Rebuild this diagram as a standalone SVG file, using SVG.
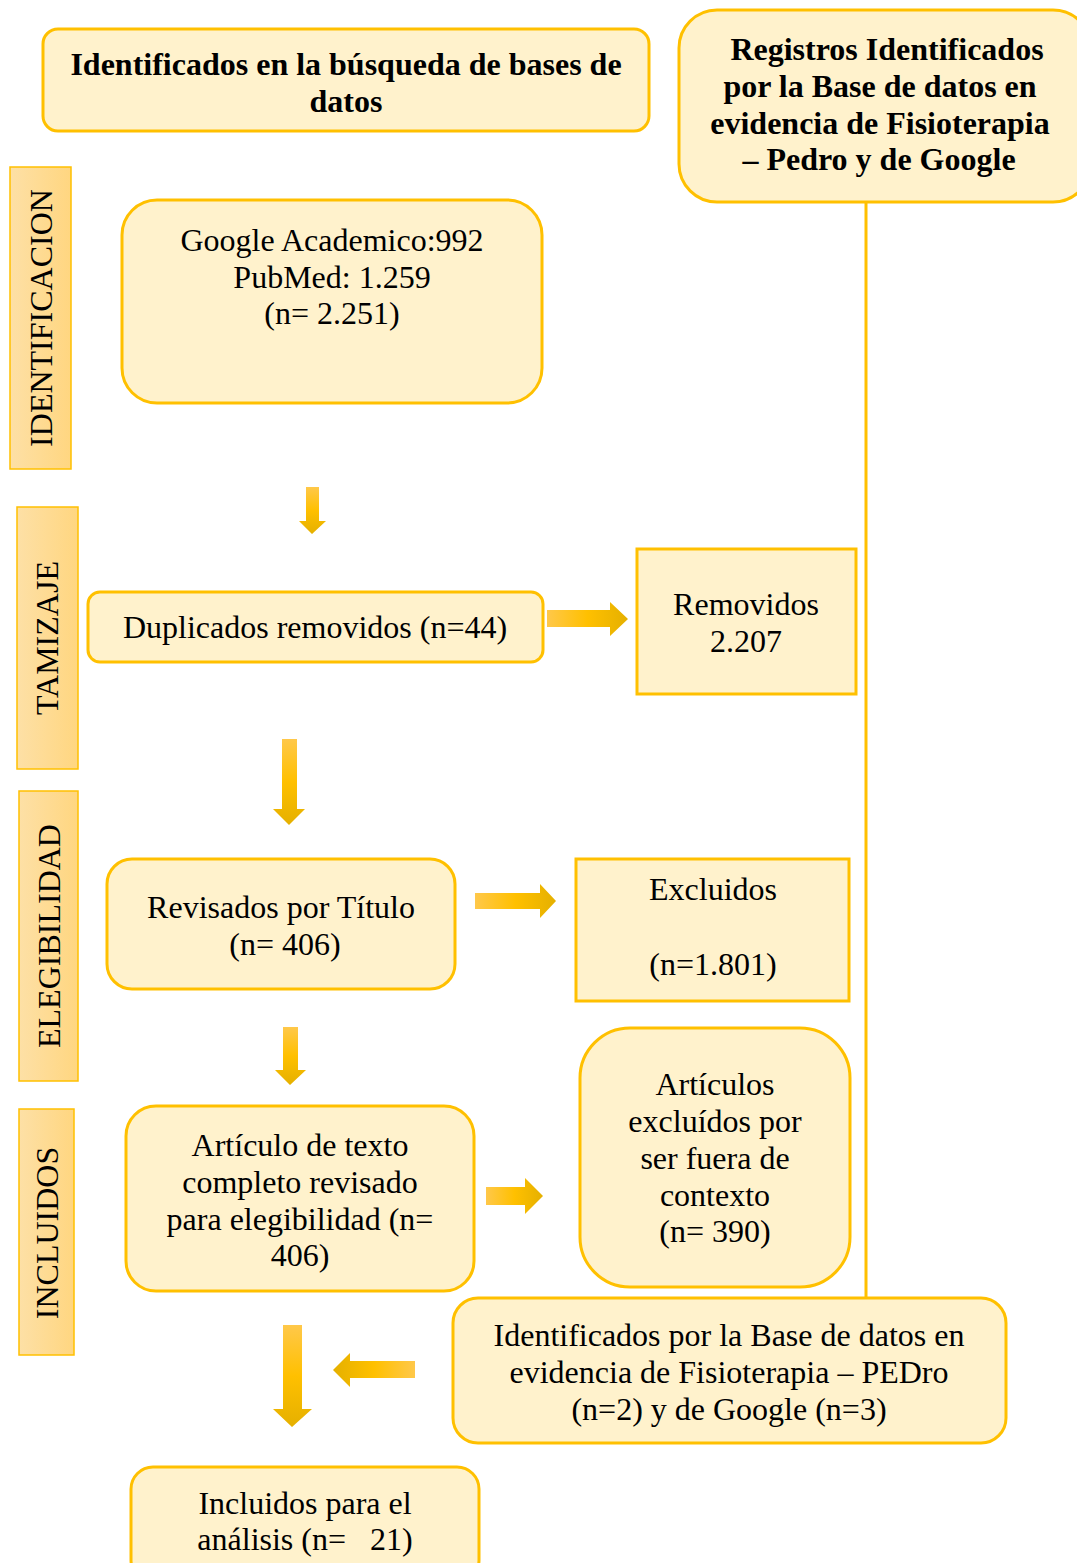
<svg xmlns="http://www.w3.org/2000/svg" width="1077" height="1563" viewBox="0 0 1077 1563">
<defs>
<linearGradient id="side" x1="0" y1="0" x2="1" y2="0">
<stop offset="0" stop-color="#FDE0A6"/>
<stop offset="1" stop-color="#FFD680"/>
</linearGradient>
<linearGradient id="gDown" x1="0" y1="0" x2="0" y2="1">
<stop offset="0" stop-color="#FFC84A"/>
<stop offset="0.5" stop-color="#FFC000"/>
<stop offset="1" stop-color="#E5B000"/>
</linearGradient>
<linearGradient id="gRight" x1="0" y1="0" x2="1" y2="0">
<stop offset="0" stop-color="#FFC84A"/>
<stop offset="0.5" stop-color="#FFC000"/>
<stop offset="1" stop-color="#E5B000"/>
</linearGradient>
<linearGradient id="gLeft" x1="1" y1="0" x2="0" y2="0">
<stop offset="0" stop-color="#FFC84A"/>
<stop offset="0.5" stop-color="#FFC000"/>
<stop offset="1" stop-color="#E5B000"/>
</linearGradient>
</defs>
<style>
.box{fill:#FFF2CC;stroke:#FFC000;stroke-width:3}
.side{fill:url(#side);stroke:#FFC000;stroke-width:1.5}
.t{font-family:"Liberation Serif","Times New Roman",serif;font-size:32px;fill:#000;text-anchor:middle}
.b{font-weight:bold;font-size:32px}
.s{font-size:32px}
.ad{fill:url(#gDown)}
.ar{fill:url(#gRight)}
.al{fill:url(#gLeft)}
</style>
<rect width="1077" height="1563" fill="#fff"/>

<g id="connectors">
<line x1="866" y1="202" x2="866" y2="1299" stroke="#FFC000" stroke-width="3"/>
<polygon class="ad" points="306,487 319,487 319,521 326,521 312,534 299,521 306,521"/>
<polygon class="ar" points="547,610 610,610 610,602 628,619 610,636 610,627 547,627"/>
<polygon class="ad" points="282,739 297,739 297,809 305,809 289,825 273,809 282,809"/>
<polygon class="ar" points="475,893 540,893 540,884 556,901 540,918 540,909 475,909"/>
<polygon class="ad" points="283,1027 298,1027 298,1070 306,1070 290,1085 275,1070 283,1070"/>
<polygon class="ar" points="486,1187 525,1187 525,1178 543,1196 525,1214 525,1205 486,1205"/>
<polygon class="ad" points="283,1325 302,1325 302,1409 312,1409 292,1427 273,1409 283,1409"/>
<polygon class="al" points="415,1361 350,1361 350,1353 333,1370 350,1387 350,1378 415,1378"/>
</g>

<g id="side-identificacion">
<rect class="side" x="10" y="167" width="61" height="302"/>
<text class="t s" transform="translate(52,318) rotate(-90)">IDENTIFICACION</text>
</g>
<g id="side-tamizaje">
<rect class="side" x="17" y="507" width="61" height="262"/>
<text class="t s" transform="translate(58,638) rotate(-90)">TAMIZAJE</text>
</g>
<g id="side-elegibilidad">
<rect class="side" x="19" y="791" width="59" height="290"/>
<text class="t s" transform="translate(60,936) rotate(-90)">ELEGIBILIDAD</text>
</g>
<g id="side-incluidos">
<rect class="side" x="19" y="1109" width="55" height="246"/>
<text class="t s" transform="translate(58,1233) rotate(-90)">INCLUIDOS</text>
</g>

<g id="node-identificados">
<rect class="box" x="43" y="29" width="606" height="102" rx="15"/>
<text class="t b" x="346" y="75">Identificados en la búsqueda de bases de</text>
<text class="t b" x="346" y="112">datos</text>
</g>

<g id="node-registros">
<rect class="box" x="679" y="10" width="412" height="192" rx="38"/>
<text class="t b" x="887" y="60">Registros Identificados</text>
<text class="t b" x="880" y="97">por la Base de datos en</text>
<text class="t b" x="880" y="134">evidencia de Fisioterapia</text>
<text class="t b" x="879" y="170">– Pedro y de Google</text>
</g>

<g id="node-google">
<rect class="box" x="122" y="200" width="420" height="203" rx="35"/>
<text class="t" x="332" y="251">Google Academico:992</text>
<text class="t" x="332" y="288">PubMed: 1.259</text>
<text class="t" x="332" y="324">(n= 2.251)</text>
</g>

<g id="node-duplicados">
<rect class="box" x="88" y="592" width="455" height="70" rx="12"/>
<text class="t" x="315" y="638">Duplicados removidos (n=44)</text>
</g>

<g id="node-removidos">
<rect class="box" x="637" y="549" width="219" height="145"/>
<text class="t" x="746" y="615">Removidos</text>
<text class="t" x="746" y="652">2.207</text>
</g>

<g id="node-revisados">
<rect class="box" x="107" y="859" width="348" height="130" rx="25"/>
<text class="t" x="281" y="918">Revisados por Título</text>
<text class="t" x="285" y="955">(n= 406)</text>
</g>

<g id="node-excluidos">
<rect class="box" x="576" y="859" width="273" height="142"/>
<text class="t" x="713" y="900">Excluidos</text>
<text class="t" x="713" y="975">(n=1.801)</text>
</g>

<g id="node-articulo">
<rect class="box" x="126" y="1106" width="348" height="185" rx="30"/>
<text class="t" x="300" y="1156">Artículo de texto</text>
<text class="t" x="300" y="1193">completo revisado</text>
<text class="t" x="300" y="1230">para elegibilidad (n=</text>
<text class="t" x="300" y="1266">406)</text>
</g>

<g id="node-articulos-excluidos">
<rect class="box" x="580" y="1028" width="270" height="259" rx="50"/>
<text class="t" x="715" y="1095">Artículos</text>
<text class="t" x="715" y="1132">excluídos por</text>
<text class="t" x="715" y="1169">ser fuera de</text>
<text class="t" x="715" y="1206">contexto</text>
<text class="t" x="715" y="1242">(n= 390)</text>
</g>

<g id="node-pedro">
<rect class="box" x="453" y="1298" width="553" height="145" rx="25"/>
<text class="t" x="729" y="1346">Identificados por la Base de datos en</text>
<text class="t" x="729" y="1383">evidencia de Fisioterapia – PEDro</text>
<text class="t" x="729" y="1420">(n=2) y de Google (n=3)</text>
</g>

<g id="node-incluidos">
<rect class="box" x="131" y="1467" width="348" height="115" rx="22"/>
<text class="t" x="305" y="1514">Incluidos para el</text>
<text class="t" x="305" y="1550" xml:space="preserve">análisis (n=   21)</text>
</g>
</svg>
